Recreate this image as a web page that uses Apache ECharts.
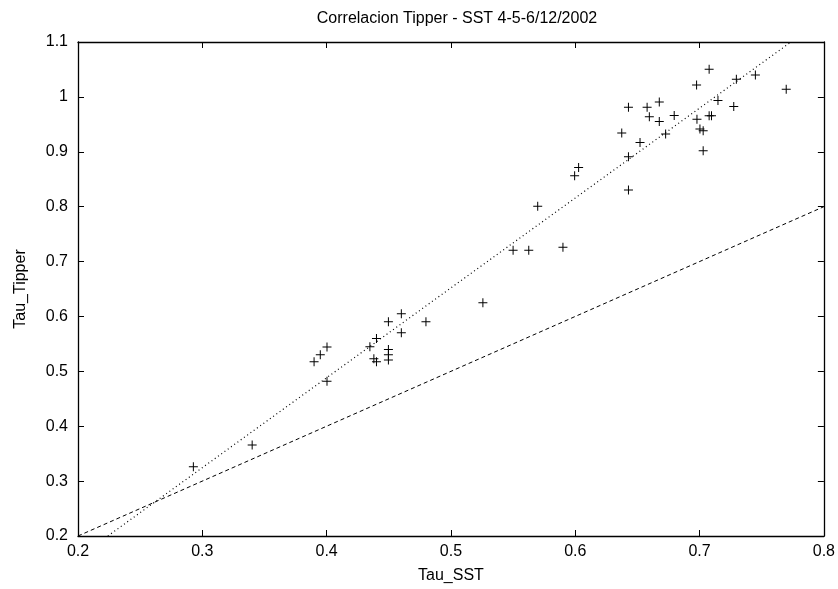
<!DOCTYPE html>
<html>
<head>
<meta charset="utf-8">
<script src="https://cdn.jsdelivr.net/npm/echarts@6/dist/echarts.min.js"></script>
<style>
html,body{margin:0;padding:0;background:#fff;}
#chart{width:838px;height:589px;}
</style>
</head>
<body>
<div id="chart"></div>
<script>
var sstValues = [0.7077,0.6976,0.7296,0.7449,0.7697,0.6428,0.6578,0.6676,0.6596,0.6676,0.6796,0.7148,0.7275,0.6979,0.7077,0.7096,0.7003,0.7029,0.7029,0.6727,0.6521,0.6374,0.6428,0.6428,0.6027,0.5995,0.5698,0.55,0.5626,0.5901,0.5257,0.4601,0.4497,0.4799,0.4601,0.4401,0.4348,0.4003,0.3949,0.3899,0.4497,0.4497,0.4497,0.438,0.4401,0.4003,0.2928,0.3401];
var tipperValues = [1.0503,1.0218,1.0322,1.04,1.014,0.9813,0.9813,0.9909,0.9636,0.9551,0.966,0.9933,0.9824,0.9594,0.9655,0.9655,0.9413,0.9382,0.9018,0.9322,0.9169,0.934,0.8909,0.8303,0.8715,0.8564,0.8006,0.7206,0.7206,0.726,0.6249,0.6049,0.5904,0.5904,0.5704,0.56,0.5449,0.5442,0.5304,0.5176,0.54,0.5304,0.5206,0.5231,0.5176,0.4818,0.326,0.366];
var fitX = [0.224, 0.7735];
var fitY = [0.2, 1.1];
var identityX = [0.2, 0.8];
var identityY = [0.2, 0.8];
var xTicks = [0.2,0.3,0.4,0.5,0.6,0.7,0.8];
var yTicks = [0.2,0.3,0.4,0.5,0.6,0.7,0.8,0.9,1,1.1];

function zip(a,b){return a.map(function(v,i){return [v,b[i]];});}
var FONT = '"Liberation Sans", Arial, sans-serif';
var FS = 16;
var chart = echarts.init(document.getElementById('chart'), null, {renderer:'canvas'});
var tickStyle = {show:true, inside:true, length:6, lineStyle:{color:'#000', width:1}};
var lineStyle = {show:true, lineStyle:{color:'#000', width:1.3}};
var labelStyle = {color:'#000', fontFamily:FONT, fontSize:FS};
chart.setOption({
  animation:false,
  backgroundColor:'#fff',
  title:{text:'Correlacion Tipper - SST 4-5-6/12/2002', left:452, top:6, textAlign:'center',
    textStyle:{fontFamily:FONT, fontSize:FS, fontWeight:'normal', color:'#000'}},
  grid:{left:78, right:12, top:42, bottom:52},
  xAxis:[{
    type:'value', min:0.2, max:0.8, interval:0.1, position:'bottom',
    name:'Tau_SST', nameLocation:'middle', nameGap:32,
    nameTextStyle:{fontFamily:FONT, fontSize:FS, color:'#000'},
    axisLine:lineStyle, axisTick:tickStyle, splitLine:{show:false},
    axisLabel:Object.assign({margin:8, formatter:function(v){return String(+v.toFixed(2));}}, labelStyle)
  },{
    type:'value', min:0.2, max:0.8, interval:0.1, position:'top',
    axisLine:lineStyle, axisTick:tickStyle, splitLine:{show:false}, axisLabel:{show:false}
  }],
  yAxis:[{
    type:'value', min:0.2, max:1.1, interval:0.1, position:'left',
    name:'Tau_Tipper', nameLocation:'middle', nameGap:49, nameRotate:90,
    nameTextStyle:{fontFamily:FONT, fontSize:FS, color:'#000'},
    axisLine:lineStyle, axisTick:tickStyle, splitLine:{show:false},
    axisLabel:Object.assign({margin:10, formatter:function(v){return String(+v.toFixed(2));}}, labelStyle)
  },{
    type:'value', min:0.2, max:1.1, interval:0.1, position:'right',
    axisLine:lineStyle, axisTick:tickStyle, splitLine:{show:false}, axisLabel:{show:false}
  }],
  series:[{
    type:'scatter', xAxisIndex:0, yAxisIndex:0,
    data: zip(sstValues, tipperValues),
    symbol:'path://M4,0h1v4h4v1h-4v4h-1v-4h-4v-1h4z',
    symbolSize:9,
    itemStyle:{color:'#000', opacity:1}
  },{
    type:'line', xAxisIndex:0, yAxisIndex:0, symbol:'none',
    data: zip(identityX, identityY),
    lineStyle:{color:'#000', width:1, type:[4,3]}
  },{
    type:'line', xAxisIndex:0, yAxisIndex:0, symbol:'none',
    data: zip(fitX, fitY),
    lineStyle:{color:'#000', width:1.2, type:[1,3]}
  }]
});
</script>
</body>
</html>
